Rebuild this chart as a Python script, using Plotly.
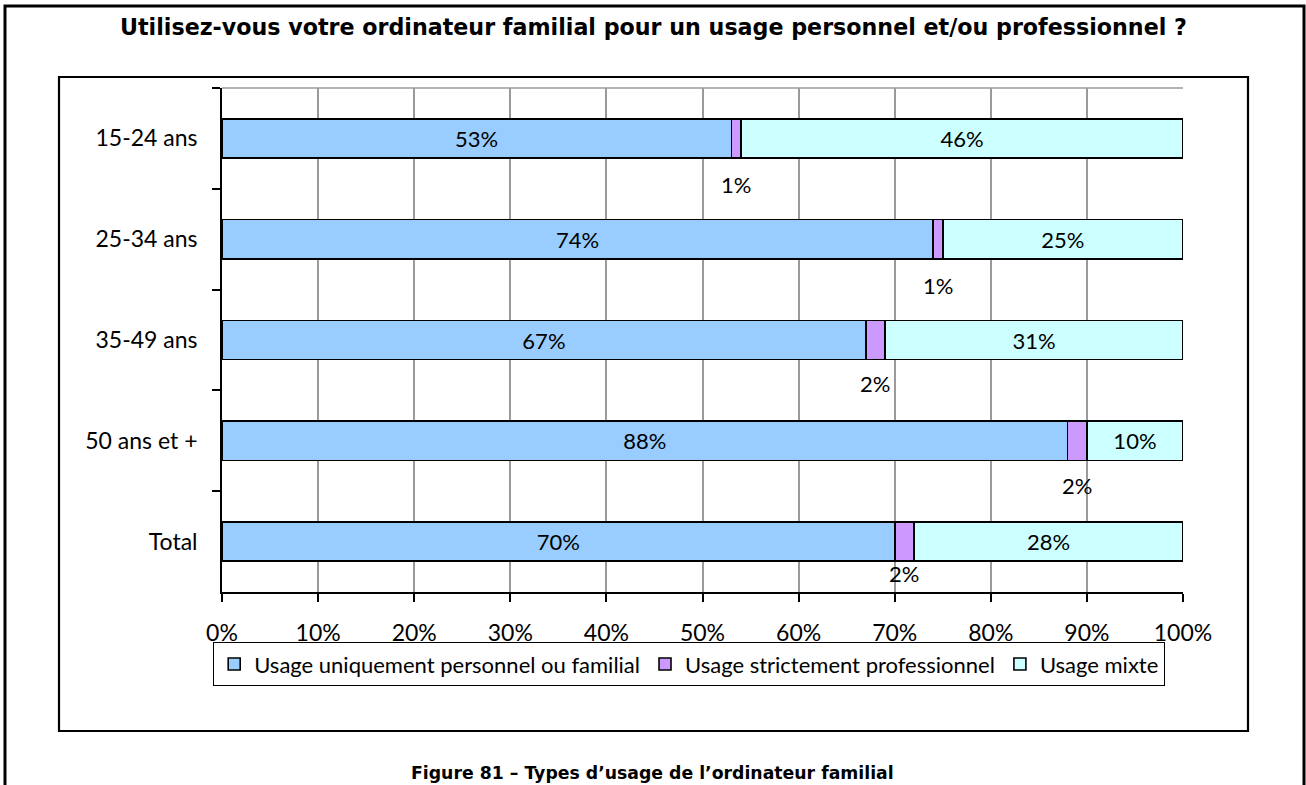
import plotly.graph_objects as go

# Survey data: share of each usage type per age group (percent)
categories = ["15-24 ans", "25-34 ans", "35-49 ans", "50 ans et +", "Total"]
personnel = [53, 74, 67, 88, 70]
professionnel = [1, 1, 2, 2, 2]
mixte = [46, 25, 31, 10, 28]
series_names = [
    "Usage uniquement personnel ou familial",
    "Usage strictement professionnel",
    "Usage mixte",
]
x_ticks = list(range(0, 101, 10))

title_text = "Utilisez-vous votre ordinateur familial pour un usage personnel et/ou professionnel ?"
caption_text = "Figure 81 \u2013 Types d\u2019usage de l\u2019ordinateur familial"

# Page geometry (pixels)
W, H = 1306, 785
L, R, T, B = 222, 1183, 88, 592  # plot area edges


def px_x(x):
    return (x - L) / (R - L)


def px_y(y):
    return (B - y) / (B - T)


FONT = "Lato"
colors = ["#99CCFF", "#CC99FF", "#CCFFFF"]
edge = dict(color="black", width=1.6)
label_font = dict(family=FONT, size=22, color="black")

fig = go.Figure()
fig.add_trace(go.Bar(
    y=categories, x=personnel, name=series_names[0], orientation="h",
    marker=dict(color=colors[0], line=edge),
    text=[f"{v}%" for v in personnel], textposition="inside",
    insidetextanchor="middle", textangle=0, textfont=label_font,
))
fig.add_trace(go.Bar(
    y=categories, x=professionnel, name=series_names[1], orientation="h",
    marker=dict(color=colors[1], line=edge),
))
fig.add_trace(go.Bar(
    y=categories, x=mixte, name=series_names[2], orientation="h",
    marker=dict(color=colors[2], line=edge),
    text=[f"{v}%" for v in mixte], textposition="inside",
    insidetextanchor="middle", textangle=0, textfont=label_font,
))

# Labels of the thin professional segment sit just below each bar
label_drop = [46, 46, 43, 45, 32]
annotations = []
for cat, p, q, drop in zip(categories, personnel, professionnel, label_drop):
    annotations.append(dict(
        x=p + q / 2, y=cat, xref="x", yref="y", text=f"{q}%",
        showarrow=False, yshift=-drop, font=label_font,
    ))

annotations.append(dict(
    x=px_x(653), y=px_y(27), xref="paper", yref="paper", text=f"<b>{title_text}</b>",
    showarrow=False, xanchor="center", yanchor="middle",
    font=dict(family="DejaVu Sans", size=22.2, color="black"),
))
annotations.append(dict(
    x=px_x(652), y=px_y(773), xref="paper", yref="paper", text=f"<b>{caption_text}</b>",
    showarrow=False, xanchor="center", yanchor="middle",
    font=dict(family="DejaVu Sans", size=17.3, color="black"),
))

shapes = [
    # inner chart frame
    dict(type="rect", xref="paper", yref="paper",
         x0=px_x(59), x1=px_x(1248), y0=px_y(731), y1=px_y(77),
         line=dict(color="black", width=2.2), layer="below"),
    # outer page frame (open at the bottom)
    dict(type="path", xref="paper", yref="paper",
         path=f"M {px_x(5)},{px_y(800)} L {px_x(5)},{px_y(6)} L {px_x(1304)},{px_y(6)} L {px_x(1304)},{px_y(800)}",
         line=dict(color="black", width=3), layer="below"),
    # top edge of the plot area
    dict(type="line", xref="paper", yref="paper", x0=0, x1=1, y0=1, y1=1,
         line=dict(color="#9A9A9A", width=1.6), layer="below"),
]

fig.update_layout(
    width=W, height=H, autosize=False,
    margin=dict(l=L, r=W - R, t=T, b=H - B, pad=0),
    barmode="stack", bargap=0.61,
    paper_bgcolor="white", plot_bgcolor="white",
    showlegend=True,
    legend=dict(
        orientation="h", x=px_x(213), y=px_y(642), xanchor="left", yanchor="top",
        bordercolor="black", borderwidth=1.2, bgcolor="white",
        font=dict(family=FONT, size=22, color="black"),
        itemwidth=30, traceorder="normal", itemclick=False, itemdoubleclick=False,
    ),
    annotations=annotations,
    shapes=shapes,
    xaxis=dict(
        range=[0, 100], tickvals=x_ticks, ticktext=[f"{v}%" for v in x_ticks],
        showgrid=True, gridcolor="#9A9A9A", gridwidth=1.6,
        showline=True, linecolor="black", linewidth=1.8,
        ticks="outside", ticklen=8, tickcolor="black", tickwidth=1.8,
        ticklabelstandoff=11, zeroline=False,
        tickfont=dict(family=FONT, size=23, color="black"),
    ),
    yaxis=dict(
        range=[4.5, -0.5], type="category",
        showgrid=False, showline=True, linecolor="black", linewidth=1.8,
        ticks="outside", ticklen=8, tickcolor="black", tickwidth=1.8,
        tickson="boundaries", ticklabelstandoff=18,
        tickfont=dict(family=FONT, size=23, color="black"),
    ),
)

fig.write_html("out.html")
